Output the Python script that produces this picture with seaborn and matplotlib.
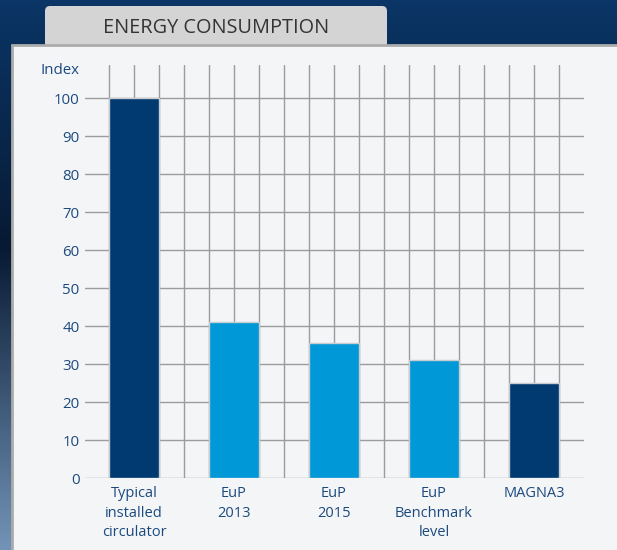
import numpy as np
import pandas as pd
import matplotlib
matplotlib.use("Agg")
import matplotlib.pyplot as plt
from matplotlib.patches import Rectangle, FancyBboxPatch
import seaborn as sns

# chart data
categories = ["Typical\ninstalled\ncirculator", "EuP\n2013", "EuP\n2015",
              "EuP\nBenchmark\nlevel", "MAGNA3"]
index_values = [100, 41, 35.5, 31, 25]
bar_group = ["typical", "eup", "eup", "eup", "magna"]
y_ticks = list(range(0, 101, 10))
title = "ENERGY CONSUMPTION"
y_label = "Index"

sns.set_theme(style="white")
plt.rcParams["font.family"] = ["Open Sans", "DejaVu Sans"]

W, H = 617, 550
fig = plt.figure(figsize=(W / 100, H / 100), dpi=100)

# background layer in pixel coordinates
bg = fig.add_axes([0, 0, 1, 1])
bg.set_xlim(0, W)
bg.set_ylim(H, 0)
bg.axis("off")

top = np.array([0.04, 0.21, 0.40])
mid = np.array([0.03, 0.10, 0.20])
low = np.array([0.45, 0.58, 0.72])
t = np.linspace(0, 1, 300)[:, None]
grad = np.where(t < 0.45,
                top + (mid - top) * (t / 0.45),
                mid + (low - mid) * ((t - 0.45) / 0.55))
bg.imshow(grad[:, None, :].repeat(4, axis=1), extent=[0, W, H, 0], aspect="auto", zorder=0)

tab = FancyBboxPatch((45, 6), 342, 46, boxstyle="round,pad=0,rounding_size=5",
                     fc="#d4d4d4", ec="none", zorder=1)
bg.add_patch(tab)
panel = Rectangle((12, 45), 640, 540, fc="#f4f5f7", ec="#ababab", lw=2, zorder=2)
bg.add_patch(panel)

bg.text(216, 28, title, ha="center", va="center", fontsize=14.3, color="#333333", zorder=3)
bg.text(79, 70, y_label, ha="right", va="center", fontsize=10.8, color="#1d4a7e", zorder=3)

# main chart
ax = fig.add_axes([85 / W, (H - 478) / H, 499 / W, (478 - 65) / H])
ax.set_facecolor("none")

df = pd.DataFrame({"category": categories, "index": index_values, "group": bar_group})
palette = {"typical": "#003a70", "eup": "#0098d6", "magna": "#003a70"}
sns.barplot(data=df, x="category", y="index", hue="group", palette=palette,
            dodge=False, width=0.5, legend=False, saturation=1,
            edgecolor="#c9ccd0", linewidth=1, ax=ax)

ax.set_xlim(-0.49, 4.5)
ax.set_ylim(0, 108.8)
ax.set_yticks(y_ticks)
ax.set_xticks(np.arange(-0.25, 4.26, 0.25), minor=True)
ax.set_axisbelow(True)
ax.grid(axis="y", which="major", color="#9c9c9c", lw=1)
ax.grid(axis="x", which="both", color="#9c9c9c", lw=1)
for s in ax.spines.values():
    s.set_visible(False)

ax.set_xlabel("")
ax.set_ylabel("")
ax.tick_params(axis="both", which="both", length=0, labelcolor="#1d4a7e")
ax.tick_params(axis="y", labelsize=10.8, pad=4)
ax.tick_params(axis="x", labelsize=10.5, pad=6)
for lbl in ax.get_xticklabels():
    lbl.set_linespacing(1.4)
    lbl.set_verticalalignment("top")

fig.savefig("out.png", dpi=100)
